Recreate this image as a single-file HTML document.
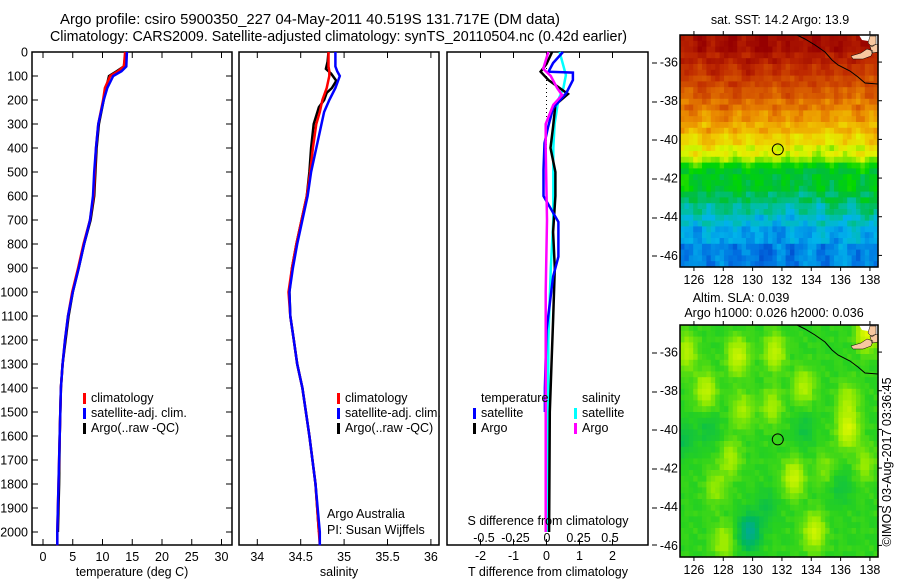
<!DOCTYPE html>
<html><head><meta charset="utf-8">
<style>
html,body{margin:0;padding:0;background:#fff;}
svg{display:block;font-family:"Liberation Sans",sans-serif;}
text{font-size:12.5px;fill:#000;}
.t{font-size:14.5px;}
</style></head>
<body>
<svg id="c" width="900" height="580" viewBox="0 0 900 580" xmlns="http://www.w3.org/2000/svg">
<text class="t" x="60" y="24" textLength="500" lengthAdjust="spacingAndGlyphs">Argo profile: csiro 5900350_227 04-May-2011 40.519S 131.717E (DM data)</text>
<text class="t" x="50" y="41" textLength="577" lengthAdjust="spacingAndGlyphs">Climatology: CARS2009. Satellite-adjusted climatology: synTS_20110504.nc (0.42d earlier)</text>
<g id="g"></g>
</svg>
<script>
// ---------- data ----------
const depthTicks=[0,100,200,300,400,500,600,700,800,900,1000,1100,1200,1300,1400,1500,1600,1700,1800,1900,2000];
const tempTicks=[0,5,10,15,20,25,30];
const salTicks=[34,34.5,35,35.5,36];
const salTickLabels=["34","34.5","35","35.5","36"];
const tdTicks=[-2,-1,0,1,2];
const sdTicks=[-0.5,-0.25,0,0.25,0.5];
const sdTickLabels=["-0.5","-0.25","0","0.25","0.5"];

const tDepthClim=[0,60,80,100,150,200,300,400,500,600,700,800,900,1000,1100,1200,1300,1400,1600,1800,2000,2055];
const tClim=[13.8,13.6,12.6,11.3,10.4,10.1,9.3,8.9,8.7,8.5,7.9,6.8,5.9,4.9,4.2,3.7,3.3,3.0,2.8,2.6,2.4,2.4];
const tDepthSat=[0,60,80,100,150,200,300,400,500,600,700,800,900,1000,1100,1200,1300,1400,1600,1800,2000,2055];
const tSat=[14.1,14.0,13.2,11.8,10.8,10.2,9.3,8.9,8.6,8.4,7.9,6.9,6.0,5.0,4.2,3.7,3.3,3.0,2.8,2.6,2.4,2.4];
const tDepthArgo=[0,60,80,100,150,200,300,400,500,600,700,800,900,1000,1100,1200,1300,1400,1600,1800,2000];
const tArgo=[13.9,13.6,12.4,11.1,10.6,10.2,9.4,9.0,8.8,8.6,8.0,6.9,6.0,5.0,4.3,3.8,3.3,3.0,2.8,2.7,2.5];

const sDepth=[0,60,80,100,150,200,250,300,400,500,600,700,800,900,1000,1100,1200,1300,1400,1600,1800,2000,2055];
const sClim=[34.82,34.82,34.83,34.83,34.80,34.75,34.72,34.68,34.64,34.61,34.57,34.51,34.45,34.40,34.36,34.38,34.42,34.46,34.52,34.60,34.67,34.71,34.72];
const sSat=[34.90,34.90,34.92,34.95,34.90,34.83,34.77,34.74,34.68,34.62,34.58,34.52,34.46,34.41,34.37,34.38,34.42,34.46,34.52,34.60,34.67,34.72,34.72];
const sDepthArgo=[0,40,70,90,120,150,170,200,230,300,400,500,600,700,800,900,1000,1100,1200,1300,1400,1600,1800,2000];
const sArgo=[34.82,34.81,34.79,34.85,34.91,34.86,34.80,34.77,34.71,34.65,34.62,34.60,34.57,34.51,34.45,34.40,34.37,34.38,34.42,34.46,34.52,34.60,34.67,34.71];

const dDepthT=[0,46,82,86,117,171,234,312,380,490,600,708,853,936,1160,1400,1500];
const dTsat=[0.5,0.2,0.06,0.8,0.8,0.6,0.2,0.05,-0.06,-0.09,-0.09,0.36,0.36,0.2,0,-0.05,-0.05];
const dDepthTA=[0,50,82,117,175,220,311,400,500,600,750,900,1117,1300,1500,2000];
const dTargo=[0.17,0.0,-0.18,0.06,0.65,0.27,0.2,0.12,0.27,0.27,0.2,0.25,0.2,0.15,0.1,0.08];
const dDepthS=[0,96,150,200,300,400,700,900,1200,2000];
const dSsat=[0.1,0.15,0.13,0.09,0.06,0.05,0.05,0.03,0.01,0.01];
const dDepthSA=[0,70,100,150,180,220,300,400,700,1000,1500,2000];
const dSargo=[0.01,-0.03,0.03,0.08,0.12,0.05,-0.01,-0.01,0.0,-0.01,-0.01,-0.01];

const lonTicks=[126,128,130,132,134,136,138];
const latTicks=[-36,-38,-40,-42,-44,-46];
const sstRows=[18.6,18.6,18.6,18.2,18.2,17.8,17.8,17.4,17.4,17.0,17.0,16.6,16.6,16.2,16.2,15.8,15.8,15.3,15.3,14.8,14.8,14.3,13.4,13.0,13.0,13.0,13.0,12.6,12.6,12.2,12.2,11.8,11.8,11.4,11.4,11.4,11.0,11.0,11.0,11.0];
const sstColVar=[0.3,0.1,-0.2,0.4,0.6,0.2,-0.1,0.0,0.3,-0.3,-0.4,0.1,0.5,0.2,-0.2,0.3,0.0,-0.1,0.4,0.2,-0.3,0.1,0.6,0.3,-0.2,0.0,0.2,-0.1,0.4,-0.3,0.1,0.3,-0.2,0.2,0.5,0.0,-0.3,0.2,0.1,-0.2,0.3,0.4,-0.1,0.2,0.0];
const sstColVar2=[-0.4,-0.5,-0.3,0.0,0.2,0.1,-0.2,-0.4,-0.2,0.1,0.3,0.4,0.2,-0.1,-0.3,-0.2,0.0,0.3,0.5,0.4,0.1,-0.1,-0.2,0.0,0.2,0.1,-0.1,-0.3,-0.2,0.1,0.3,0.2,0.0,-0.2,-0.1,0.1,0.2,0.0,-0.2,-0.3,-0.1,0.1,0.0,-0.2,-0.1];
const slaBlobLon=[125.5,129,131.5,126.8,129.3,131.3,133.5,136.5,136.5,128.5,132.8,127.5,134.2,128,137.8,135,137.7,129.8,125.3,133.5,131,136,127];
const slaBlobLat=[-36,-36.2,-36,-38,-39,-38.8,-37.8,-40,-38.5,-41.5,-42.5,-43,-45.3,-45.8,-35,-42,-41.8,-45.3,-40.5,-40,-44,-43,-40];
const slaBlobAmp=[0.6,0.8,0.7,0.7,0.5,0.5,0.6,0.9,0.5,0.5,0.8,0.4,0.8,0.5,1.0,0.3,0.4,-1.0,-0.4,-0.3,-0.3,-0.3,-0.3];
const argoLon=131.717, argoLat=-40.519;

// ---------- helpers ----------
const NS="http://www.w3.org/2000/svg";
const G=document.getElementById('g');
function mk(tag,attrs,parent){const e=document.createElementNS(NS,tag);for(const k in attrs)e.setAttribute(k,attrs[k]);(parent||G).appendChild(e);return e;}
function txt(x,y,s,anchor,parent){const e=mk('text',{x:x,y:y,'text-anchor':anchor||'start'},parent);e.textContent=s;return e;}
const yTop=52,yBot=545;
const yD=d=>yTop+d*0.24;
const xT=v=>43+v*5.95;
const xS=v=>257.3+(v-34)*86.8;
const xTD=v=>546.5+v*33;
const xSD=v=>547+v*126;

function frame(x0,x1,name){
  const r=mk('rect',{x:x0,y:yTop,width:x1-x0,height:yBot-yTop,fill:'none',stroke:'#000','stroke-width':1.5});
  
  
}
function line(xs,ys,color,name,w){
  const pts=xs.map((x,i)=>x.toFixed(1)+','+ys[i].toFixed(1)).join(' ');
  const p=mk('polyline',{points:pts,fill:'none',stroke:color,'stroke-width':w||2.5,'stroke-linejoin':'miter'});
  
  
}
function tick(x1,y1,x2,y2){mk('line',{x1:x1,y1:y1,x2:x2,y2:y2,stroke:'#000','stroke-width':1});}

frame(32,232,'temperature-panel-frame');
frame(239,439,'salinity-panel-frame');
frame(447,648,'difference-panel-frame');
depthTicks.forEach(d=>{
  const y=yD(d);
  const t=txt(28,y+4.5,String(d),'end');
  
  
  tick(32,y,38,y);tick(226,y,232,y);
});
tempTicks.forEach(v=>{const x=xT(v);tick(x,yTop,x,yTop+6);tick(x,yBot-6,x,yBot);
  const t=txt(x,561,String(v),'middle');});
line(tDepthArgo.map((d,i)=>xT(tArgo[i])),tDepthArgo.map(yD),'#000','temperature-argo-line');
line(tDepthClim.map((d,i)=>xT(tClim[i])),tDepthClim.map(yD),'#f00','temperature-climatology-line');
line(tDepthSat.map((d,i)=>xT(tSat[i])),tDepthSat.map(yD),'#0000ff','temperature-satellite-line');
{const t=txt(132,576,'temperature (deg C)','middle');}
function legend(x,y,items){items.forEach((it,i)=>{
  const r=mk('rect',{x:x,y:y+i*15-9,width:3,height:11,fill:it[0]});
  
  const t=txt(x+8,y+i*15,it[1]);});}
legend(83,402,[['#f00','climatology'],['#0000ff','satellite-adj. clim.'],['#000','Argo(..raw -QC)']]);

salTicks.forEach((v,i)=>{const x=xS(v);tick(x,yTop,x,yTop+6);tick(x,yBot-6,x,yBot);
  const t=txt(x,561,salTickLabels[i],'middle');});
line(sDepthArgo.map((d,i)=>xS(sArgo[i])),sDepthArgo.map(yD),'#000','salinity-argo-line');
line(sDepth.map((d,i)=>xS(sClim[i])),sDepth.map(yD),'#f00','salinity-climatology-line');
line(sDepth.map((d,i)=>xS(sSat[i])),sDepth.map(yD),'#0000ff','salinity-satellite-line');
{const t=txt(339,576,'salinity','middle');}
legend(337,402,[['#f00','climatology'],['#0000ff','satellite-adj. clim.'],['#000','Argo(..raw -QC)']]);
{const t=txt(327,518,'Argo Australia');
 const u=txt(327,534,'PI: Susan Wijffels');}

tdTicks.forEach(v=>{const x=xTD(v);tick(x,yTop,x,yTop+6);tick(x,yBot-6,x,yBot);
  const t=txt(x,560,String(v),'middle');});
sdTicks.forEach((v,i)=>{const t=txt(xSD(v),542,sdTickLabels[i],'middle');});
[63,102,140,179,218,256,353,392,430,469,508,545].forEach(y=>tick(652,y,657,y));
{const z=mk('line',{x1:xTD(0),y1:yD(0),x2:xTD(0),y2:yD(600),stroke:'#000','stroke-width':1,'stroke-dasharray':'1,3'});
 }
line(dDepthS.map((d,i)=>xSD(dSsat[i])),dDepthS.map(yD),'#00ffff','s-diff-satellite-line');
line(dDepthTA.map((d,i)=>xTD(dTargo[i])),dDepthTA.map(yD),'#000','t-diff-argo-line');
line(dDepthT.map((d,i)=>xTD(dTsat[i])),dDepthT.map(yD),'#0000ff','t-diff-satellite-line');
line(dDepthSA.map((d,i)=>xSD(dSargo[i])),dDepthSA.map(yD),'#ff00ff','s-diff-argo-line');
{const t=txt(481,402,'temperature');
 const u=txt(582,402,'salinity');}
legend(473,417,[['#0000ff','satellite'],['#000','Argo']]);
legend(574,417,[['#00ffff','satellite'],['#ff00ff','Argo']]);
{const t=txt(548,525,'S difference from climatology','middle');
 const u=txt(548,576,'T difference from climatology','middle');}

// ---------- maps ----------
const LON0=125.05,LON1=138.55,LAT0=-34.6,LAT1=-46.6;
function lerpC(stops,v){
  if(v>=stops[0][0])return stops[0][1];
  for(let i=1;i<stops.length;i++){if(v>=stops[i][0]){const a=stops[i-1],b=stops[i];const f=(v-b[0])/(a[0]-b[0]);
    return b[1].map((c,k)=>Math.round(c+(a[1][k]-c)*f));}}
  return stops[stops.length-1][1];
}
const sstStops=[[19,[150,0,0]],[18,[190,40,0]],[17,[215,90,0]],[16.3,[235,140,0]],[15.5,[240,200,0]],[14.8,[225,245,0]],[14.2,[120,230,0]],[13.4,[0,215,0]],[12.8,[0,190,60]],[12.2,[0,190,160]],[11.6,[0,180,235]],[10.8,[0,110,225]],[10.2,[0,50,190]]];
const slaStops=[[1,[225,248,0]],[0.4,[150,235,0]],[0,[40,210,30]],[-0.5,[0,185,90]],[-1,[0,170,150]]];

function drawMap(top,bot,name,valFn,stops){
  const x0=680,x1=878;
  const g=mk('g',{});
  const xL=v=>x0+(v-LON0)/(LON1-LON0)*(x1-x0);
  const yL=v=>top+(v-LAT0)/(LAT1-LAT0)*(bot-top);
  const nC=45,nR=40,dLon=(LON1-LON0)/nC,dLat=(LAT0-LAT1)/nR;
  for(let r=0;r<nR;r++)for(let c=0;c<nC;c++){
    const lon=LON0+(c+0.5)*dLon,lat=LAT0-(r+0.5)*dLat;
    const col=lerpC(stops,valFn(r,c,lon,lat));
    const xa=xL(LON0+c*dLon),xb=xL(LON0+(c+1)*dLon),ya=yL(LAT0-r*dLat),yb=yL(LAT0-(r+1)*dLat);
    mk('rect',{x:xa.toFixed(2),y:ya.toFixed(2),width:(xb-xa+0.6).toFixed(2),height:(yb-ya+0.6).toFixed(2),fill:'rgb('+col.join(',')+')'},g);
  }
  mk('path',{d:`M${x0+179},${top} L${x1},${top} L${x1},${top+13} L${x1-6},${top+12} L${x1-10},${top+6} L${x1-16},${top+5} Z`,fill:'#fff'},g);
  mk('path',{d:`M${x0+190},${top+1} l6,0 l0,8 l-4,3 l-4,-4 Z M${x0+171},${top+21} l10,-3 l6,-4 l6,2 l-2,5 l-8,3 l-10,0 Z M${x1-8},${top+11} l8,-2 l0,8 l-6,1 Z`,fill:'#f8c8a0',stroke:'#000','stroke-width':0.5},g);
  mk('polyline',{points:`${x0+117},${top} ${x0+125},${top+4} ${x0+135},${top+10} ${x0+145},${top+17} ${x0+152},${top+25} ${x0+158},${top+30} ${x0+170},${top+36} ${x0+178},${top+42} ${x0+185},${top+48} ${x1},${top+49}`,fill:'none',stroke:'#000','stroke-width':1},g);
  mk('rect',{x:x0,y:top,width:x1-x0,height:bot-top,fill:'none',stroke:'#000','stroke-width':1.5},g);
  lonTicks.forEach(v=>{const x=xL(v);tick(x,top-4,x,top);tick(x,bot,x,bot+4);
    const t=txt(x,bot+17,String(v),'middle');});
  latTicks.forEach(v=>{const y=yL(v);tick(x1,y,x1+4,y);
    const t=txt(x0-2,y+4.5,String(v),'end');});
  const cc=mk('circle',{cx:xL(argoLon),cy:yL(argoLat),r:5.5,fill:'none',stroke:'#000','stroke-width':1},g);
  
}
drawMap(35,267,'sst-map',(r,c)=>sstRows[r]+sstColVar[(c+r*7)%45]*0.5+sstColVar2[(c+Math.floor(r/4)*3)%45]*0.9,sstStops);
{const t=txt(780,24,'sat. SST: 14.2 Argo: 13.9','middle');}
drawMap(325,557,'sla-map',(r,c,lon,lat)=>{let v=sstColVar[(c*3+r*5)%45]*0.15;
  for(let i=0;i<slaBlobLon.length;i++){const dx=(lon-slaBlobLon[i])/0.7,dy=(lat-slaBlobLat[i])/0.9;v+=slaBlobAmp[i]*Math.exp(-(dx*dx+dy*dy));}return v;},slaStops);
{const t=txt(741,302,'Altim. SLA: 0.039','middle');
 const u=txt(774,317,'Argo h1000: 0.026 h2000: 0.036','middle');
 const w=txt(0,0,'©IMOS 03-Aug-2017 03:36:45','middle');w.setAttribute('transform','translate(891,462) rotate(-90)');}
</script>
</body></html>
